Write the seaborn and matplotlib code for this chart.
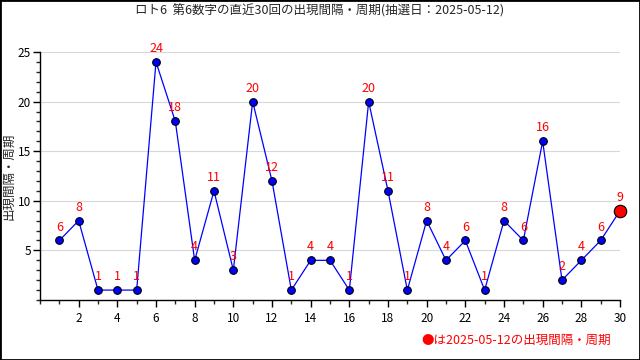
import matplotlib
matplotlib.use("Agg")
import matplotlib.pyplot as plt
import seaborn as sns
import pandas as pd
from matplotlib.ticker import MultipleLocator

# data
draws = list(range(1, 31))
intervals = [6, 8, 1, 1, 1, 24, 18, 4, 11, 3, 20, 12, 1, 4, 4, 1, 20, 11, 1, 8,
             4, 6, 1, 8, 6, 16, 2, 4, 6, 9]
title = "ロト6  第6数字の直近30回の出現間隔・周期(抽選日：2025-05-12)"
ylabel = "出現間隔・周期"
note = "●は2025-05-12の出現間隔・周期"

df = pd.DataFrame({"draw": draws, "interval": intervals})

sns.set_style("white", {"xtick.bottom": True, "ytick.left": True})
plt.rcParams['font.family'] = ['Noto Sans CJK JP', 'DejaVu Sans']

fig = plt.figure(figsize=(6.4, 3.6), dpi=100)
ax = fig.add_axes([40/640, 60/360, 580/640, 248/360])

sns.lineplot(data=df, x="draw", y="interval", ax=ax, color="blue", lw=0.9,
             marker="o", markersize=5.5, markerfacecolor="blue",
             markeredgecolor="black", markeredgewidth=0.8)
last = df.iloc[[-1]]
sns.scatterplot(data=last, x="draw", y="interval", ax=ax, color="red",
                s=80, edgecolor="black", linewidth=0.8, zorder=5, clip_on=False)

for x, y in zip(draws, intervals):
    ax.annotate(str(y), (x, y), xytext=(0, 5), textcoords="offset points",
                ha="center", va="bottom", color="red", fontsize=9)

ax.set_xlim(0, 30)
ax.set_ylim(0, 25)
ax.set_xticks(list(range(2, 31, 2)))
ax.set_yticks([5, 10, 15, 20, 25])
ax.xaxis.set_minor_locator(MultipleLocator(1))
ax.yaxis.set_minor_locator(MultipleLocator(1))
ax.tick_params(axis="both", which="major", direction="out", length=5,
               labelsize=8.5, width=1, colors="black")
ax.tick_params(axis="both", which="minor", direction="out", length=3, width=1,
               bottom=True, left=True)
ax.tick_params(axis="x", pad=4)
ax.tick_params(axis="y", pad=1.5)
ax.grid(axis="y", color="#d8d8d8", lw=0.8)
ax.set_axisbelow(True)
for s in ["top", "right"]:
    ax.spines[s].set_visible(False)
for s in ["left", "bottom"]:
    ax.spines[s].set_color("black")
    ax.spines[s].set_linewidth(1)

ax.set_xlabel("")
ax.set_ylabel("")
fig.text(9/640, 1 - 176/360, ylabel, rotation=90, ha="center", va="center",
         fontsize=9)
fig.text(0.5, 0.97, title, ha="center", va="center", fontsize=9)
fig.text(0.955, 0.055, note, ha="right", va="center", color="red", fontsize=9)

fig.patches.append(plt.Rectangle((0, 0), 1, 1, transform=fig.transFigure,
                                 fill=False, edgecolor="black", lw=2))

fig.savefig("out.png", dpi=100)
